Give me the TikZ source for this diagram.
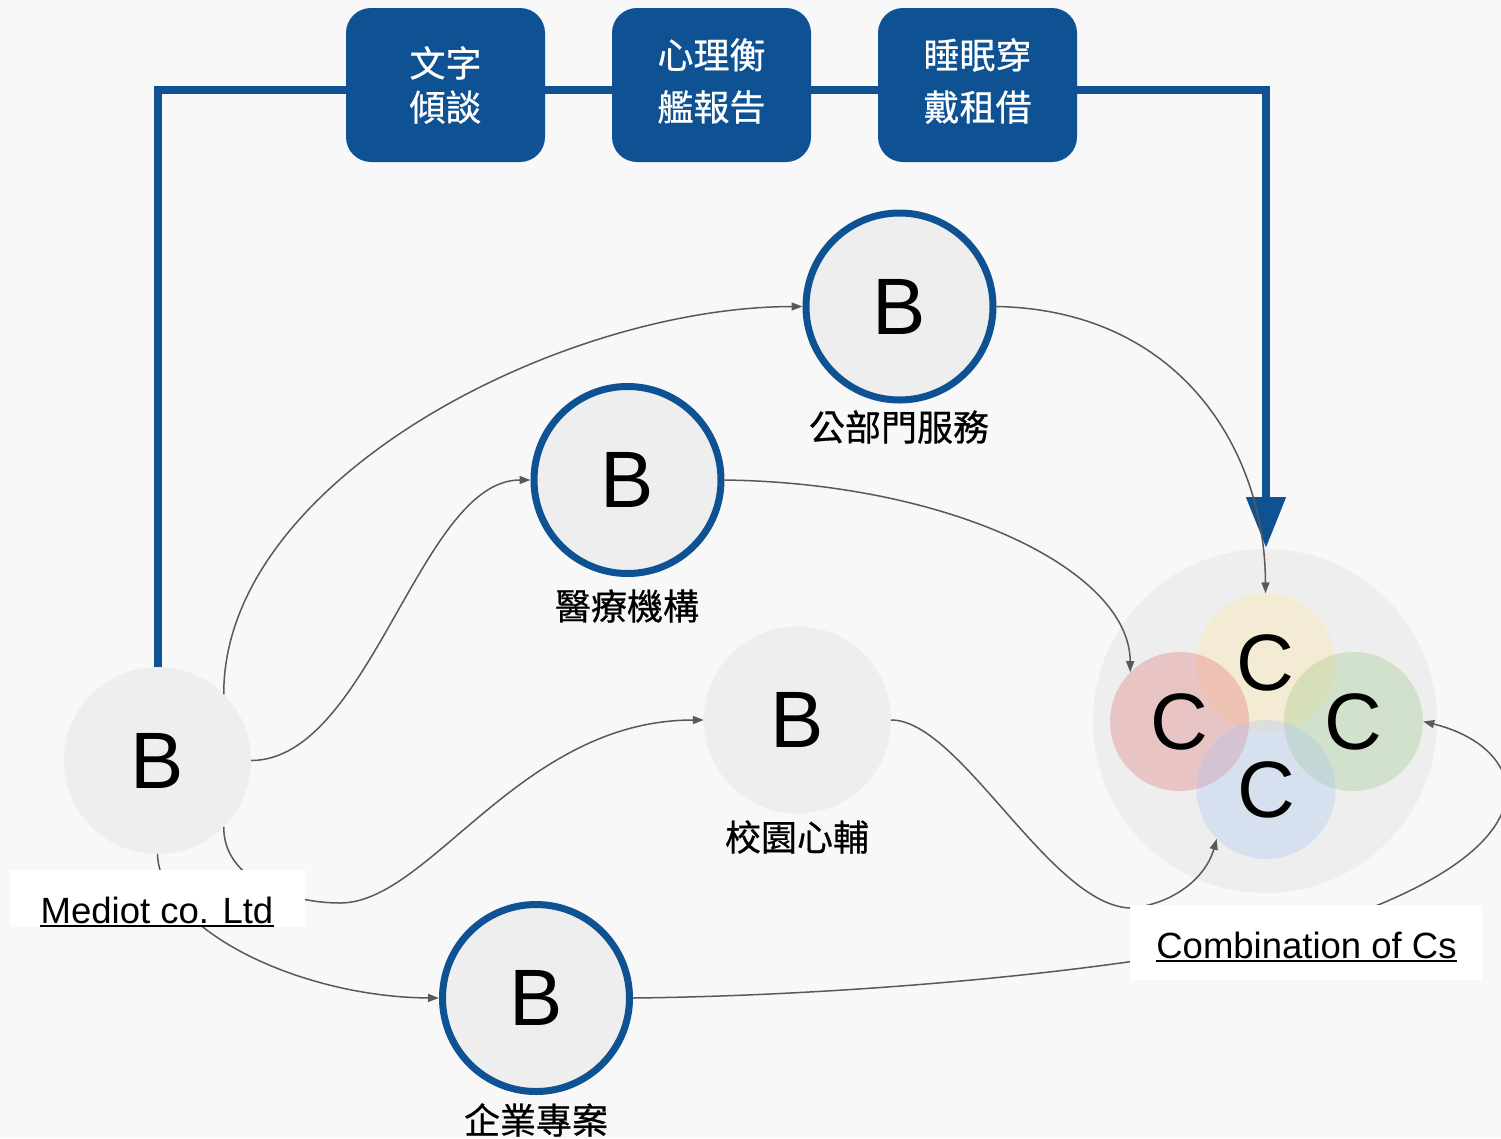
\documentclass[tikz,border=0pt]{standalone}
\usepackage{fontspec}
\setmainfont{Liberation Sans}
\newfontfamily\cjk[FakeBold=0.6]{Noto Sans CJK TC}
\usetikzlibrary{arrows.meta}
\definecolor{bg}{HTML}{F8F8F8}
\definecolor{navy}{HTML}{0E5294}
\definecolor{cgray}{HTML}{EEEEEE}
\definecolor{conn}{HTML}{595959}
\definecolor{cred}{HTML}{E06666}
\definecolor{cyel}{HTML}{FFE599}
\definecolor{cgrn}{HTML}{93C47D}
\definecolor{cblu}{HTML}{A4C2F4}
\tikzset{
  topbox/.style={fill=navy, rounded corners=25pt, minimum width=199pt, minimum height=154pt, inner sep=0pt},
  boxtext/.style={text=white, align=center, inner sep=0pt, font=\cjk\fontsize{36}{52}\selectfont},
  bnode/.style={circle, fill=cgray, minimum size=187pt, inner sep=0pt, font=\fontsize{80}{80}\selectfont},
  bbord/.style={bnode, draw=navy, line width=7pt},
  cnode/.style={circle, minimum size=139pt, inner sep=0pt, fill opacity=0.3, text opacity=1, font=\fontsize{80}{80}\selectfont},
  blabel/.style={font=\cjk\fontsize{36}{36}\selectfont, inner sep=0pt},
  labbox/.style={fill=white, inner sep=0pt},
  labtext/.style={font=\fontsize{36.5}{36.5}\selectfont, inner sep=0pt, anchor=base},
  conline/.style={draw=conn, line width=1.5pt, -{Triangle[length=11pt,width=8pt]}},
}
\begin{document}
\begin{tikzpicture}[x=1pt, y=-1pt]
\useasboundingbox (0,0) rectangle (1501,1138);
\clip (0,0) rectangle (1501,1138);
\fill[bg] (0,0) rectangle (1501,1138);

% main B node (left)
\node[bnode] (m) at (157.5,760.5) {B};

% blue route
\coordinate (tl) at (157.5,90);
\coordinate (tr) at (1266,90);
\coordinate (tip) at (1266,548);
\draw[navy, line width=8pt, -{Triangle[length=51pt,width=38pt]}] (m.north) -- (tl) -- (tr) -- (tip);

% top boxes
\node[topbox] (b1) at (445.5,85) {};
\node[topbox] (b2) at (711.5,85) {};
\node[topbox] (b3) at (977.5,85) {};
\node[boxtext, font=\cjk\fontsize{36}{44}\selectfont] (t1) at (445.5,85) {文字\\傾談};
\node[boxtext] (t2) at (711.5,81) {心理衡\\艦報告};
\node[boxtext] (t3) at (977.5,81) {睡眠穿\\戴租借};

% C group
\node[circle, fill=cgray, minimum size=344pt, inner sep=0pt] (cg) at (1265,721) {};
\node[cnode, fill=cyel] (cy) at (1265.5,663) {C};
\node[cnode, fill=cred] (cr) at (1179.5,721.5) {C};
\node[cnode, fill=cgrn] (cgr) at (1353.5,721.5) {C};
\node[cnode, fill=cblu] (cb) at (1266,789.5) {C};

% B nodes
\node[bbord] (pub) at (899.5,306.5) {B};
\node[bbord] (med) at (627.5,480) {B};
\node[bnode] (cam) at (797.5,720) {B};
\node[bbord] (ent) at (536,998) {B};

\node[blabel] (lpub) at (899,427) {公部門服務};
\node[blabel] (lmed) at (627,606) {醫療機構};
\node[blabel] (lcam) at (797,837) {校園心輔};
\node[blabel] (lent) at (536,1120) {企業專案};

% connectors
\draw[conline] (m.45) .. controls (223,480) and (560,307) .. (pub.west);
\draw[conline] (m.east) .. controls (370,760) and (420,480) .. (med.west);
\draw[conline] (m.-45) .. controls (223,880) and (290,903) .. (340,903)
   .. controls (430,903) and (520,720) .. (cam.west);
\draw[conline] (m.south) .. controls (160,930) and (300,997) .. (ent.west);
\draw[conline] (pub.east) .. controls (1180,310) and (1265,450) .. (cy.north);
\draw[conline] (med.east) .. controls (950,483) and (1130,570) .. (cr.135);
\draw[conline] (cam.east) .. controls (960,720) and (1050,905) .. (1130,908)
   .. controls (1170,905) and (1205,880) .. (cb.225);
\draw[conline] (ent.east) .. controls (900,995) and (1250,960) .. (1378,905)
   .. controls (1560,830) and (1520,745) .. (cgr.east);

% label boxes
\node[labbox, minimum width=295pt, minimum height=57pt] (mlb) at (157.5,898.5) {};
\node[labtext] (mlt) at (157,923) {Mediot co. Ltd};
\draw[black, line width=2.5pt] ([yshift=-3pt]mlt.base west) -- ([yshift=-3pt]mlt.base east);

\node[labbox, minimum width=352pt, minimum height=75pt] (clb) at (1306,942.5) {};
\node[labtext] (clt) at (1306.5,958) {Combination of Cs};
\draw[black, line width=2.5pt] ([yshift=-3pt]clt.base west) -- ([yshift=-3pt]clt.base east);
\end{tikzpicture}
\end{document}
